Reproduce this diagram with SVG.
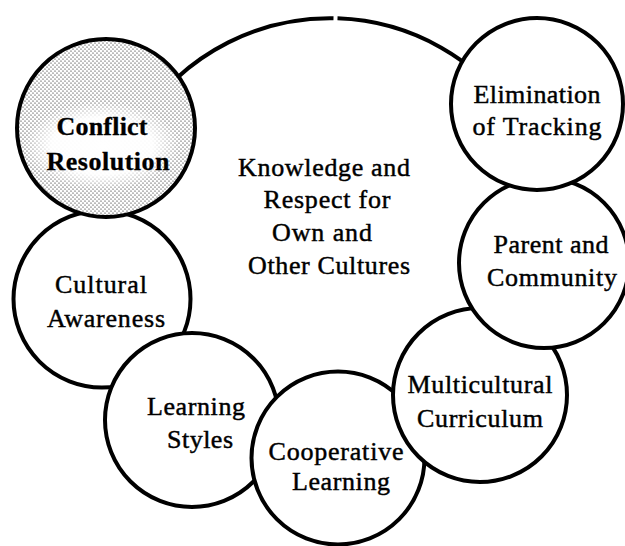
<svg xmlns="http://www.w3.org/2000/svg" width="625" height="546" viewBox="0 0 625 546">
  <style>
    .ring { fill: #ffffff; stroke: #000000; stroke-width: 4; }
    .lbl { font-family: "Liberation Serif", "Times New Roman", serif; font-size: 26px; fill: #000000; stroke: #000000; stroke-width: 0.45; text-anchor: middle; }
    .bold { font-weight: bold; stroke-width: 0.3; }
  </style>
  <defs>
    <pattern id="stipple" width="4" height="4" patternUnits="userSpaceOnUse">
      <circle cx="1" cy="1" r="0.6" fill="#000000"/>
      <circle cx="3" cy="3" r="0.6" fill="#000000"/>
    </pattern>
    <!-- white that fades out toward the edge of the label area -->
    <radialGradient id="clearBand" cx="0.5" cy="0.5" r="0.5">
      <stop offset="0" stop-color="#ffffff" stop-opacity="1"/>
      <stop offset="0.65" stop-color="#ffffff" stop-opacity="0.95"/>
      <stop offset="1" stop-color="#ffffff" stop-opacity="0"/>
    </radialGradient>
  </defs>

  <!-- central theme: large circle, open by a hair at its top -->
  <g id="core">
    <path class="ring" stroke-width="4.5" d="M 337.5 18.3 A 225 225 0 1 1 333.5 18.2"/>
    <text class="lbl" x="324" y="176" textLength="172">Knowledge and</text>
    <text class="lbl" x="327" y="208" textLength="127">Respect for</text>
    <text class="lbl" x="322" y="241" textLength="100">Own and</text>
    <text class="lbl" x="329" y="274" textLength="162">Other Cultures</text>
  </g>

  <!-- satellite circles, later ones overlap earlier ones -->
  <g id="cultural-awareness">
    <circle class="ring" cx="102" cy="299" r="88.5"/>
    <text class="lbl" x="101" y="293" textLength="92">Cultural</text>
    <text class="lbl" x="106" y="327" textLength="118">Awareness</text>
  </g>

  <g id="conflict-resolution">
    <circle cx="106" cy="128" r="89" fill="#ffffff"/>
    <circle cx="106" cy="128" r="89" fill="url(#stipple)"/>
    <!-- lighter band behind the label -->
    <ellipse cx="102" cy="146" rx="78" ry="44" fill="url(#clearBand)"/>
    <circle cx="106" cy="128" r="89" fill="none" stroke="#000000" stroke-width="4"/>
    <text class="lbl bold" x="102" y="135" textLength="91">Conflict</text>
    <text class="lbl bold" x="108" y="170" textLength="123">Resolution</text>
  </g>

  <g id="learning-styles">
    <circle class="ring" cx="192" cy="420" r="87"/>
    <text class="lbl" x="196" y="415" textLength="98">Learning</text>
    <text class="lbl" x="200" y="448" textLength="66">Styles</text>
  </g>

  <g id="cooperative-learning">
    <circle class="ring" cx="338" cy="458" r="86.5"/>
    <text class="lbl" x="336" y="460" textLength="135">Cooperative</text>
    <text class="lbl" x="341" y="490" textLength="98">Learning</text>
  </g>

  <g id="multicultural-curriculum">
    <circle class="ring" cx="480" cy="395" r="87"/>
    <text class="lbl" x="480" y="393" textLength="145">Multicultural</text>
    <text class="lbl" x="480" y="427" textLength="126">Curriculum</text>
  </g>

  <g id="parent-community">
    <circle class="ring" cx="544" cy="263" r="85"/>
    <text class="lbl" x="551" y="253" textLength="115">Parent and</text>
    <text class="lbl" x="552" y="286" textLength="130">Community</text>
  </g>

  <g id="elimination-of-tracking">
    <circle class="ring" cx="537" cy="104" r="86"/>
    <text class="lbl" x="537" y="103" textLength="127">Elimination</text>
    <text class="lbl" x="537" y="135" textLength="129">of Tracking</text>
  </g>

  <!-- no connector lines: the circles touch and overlap directly -->
  <g id="connectors"/>
</svg>
